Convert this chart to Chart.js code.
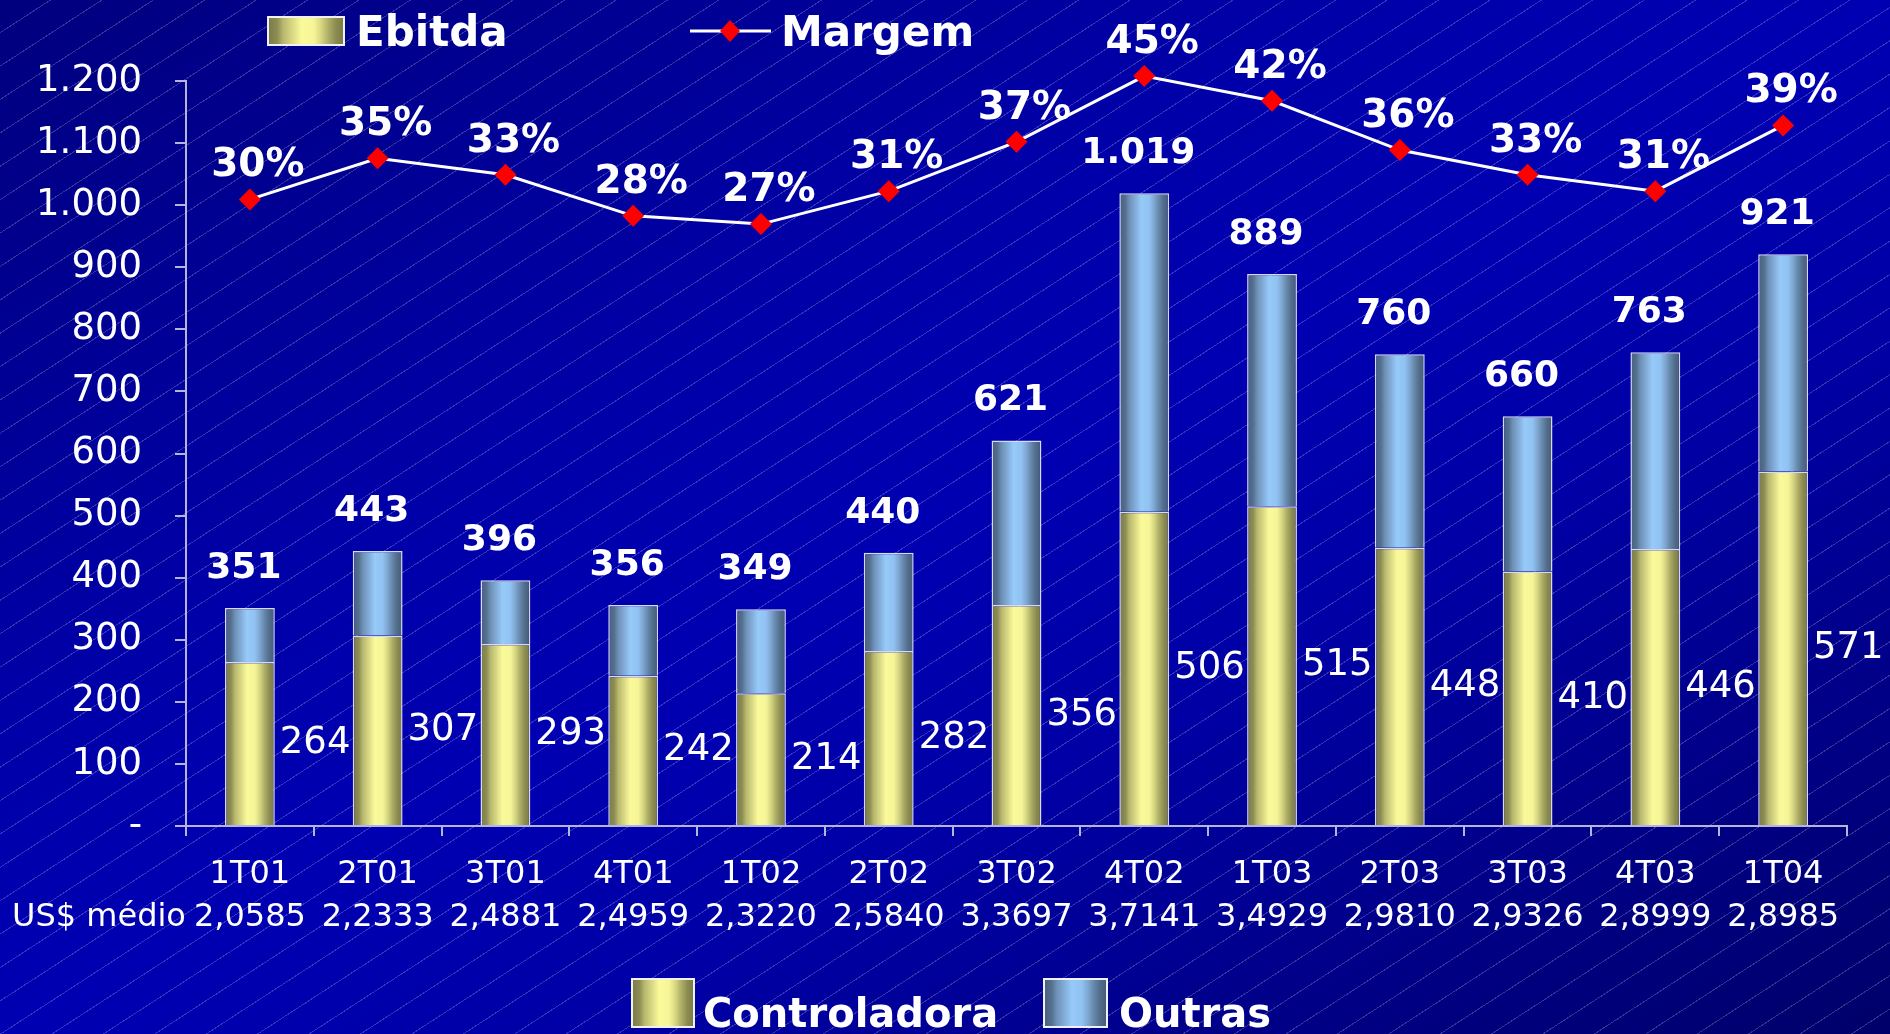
<!DOCTYPE html>
<html>
<head>
<meta charset="utf-8">
<script src="https://cdn.jsdelivr.net/npm/chart.js@4.4.1/dist/chart.umd.min.js"></script>
<style>
  html, body { margin: 0; padding: 0; overflow: hidden; }
  body {
    width: 1890px;
    height: 1034px;
    background:
      repeating-linear-gradient(147deg, rgba(255,255,255,0) 0px, rgba(255,255,255,0) 27px, rgba(255,255,255,0.2) 27px, rgba(255,255,255,0.2) 28px),
      linear-gradient(to bottom right, #00007e 0%, #0000a8 35%, #0000b2 50%, #0000a6 65%, #00006a 100%);
  }
  canvas { display: block; }
</style>
</head>
<body>
<canvas id="grafico" width="1890" height="1034"></canvas>
<script>
const trimestres = ['1T01', '2T01', '3T01', '4T01', '1T02', '2T02', '3T02', '4T02', '1T03', '2T03', '3T03', '4T03', '1T04']
const dolarMedio = ['2,0585', '2,2333', '2,4881', '2,4959', '2,3220', '2,5840', '3,3697', '3,7141', '3,4929', '2,9810', '2,9326', '2,8999', '2,8985']
const controladora = [264, 307, 293, 242, 214, 282, 356, 506, 515, 448, 410, 446, 571]
const outras = [87, 136, 103, 114, 135, 158, 265, 513, 374, 312, 250, 317, 350]
const ebitda = [351, 443, 396, 356, 349, 440, 621, 1019, 889, 760, 660, 763, 921]
const margem = [30, 35, 33, 28, 27, 31, 37, 45, 42, 36, 33, 31, 39]

// listras verticais das barras (cilindro)
const amarelo = [[0, '#7a7a44'], [0.12, '#8c8c54'], [0.2, '#b8b86e'], [0.32, '#d8d884'], [0.44, '#fafa9a'], [0.6, '#f6f698'], [0.7, '#d6d682'], [0.8, '#acac66'], [0.9, '#8a8a50'], [1, '#787842']]
const azul = [[0, '#46607e'], [0.12, '#54708e'], [0.2, '#6e90b6'], [0.32, '#82acd8'], [0.44, '#96caf8'], [0.6, '#90c2f2'], [0.7, '#7ea6d0'], [0.8, '#6486a8'], [0.9, '#506a88'], [1, '#445c78']]
const larguraBarra = 0.39

function milhar(v) {
  return String(v).replace(/\B(?=(\d{3})+(?!\d))/g, '.')
}

function grad(ctx, x0, x1, stops) {
  const g = ctx.createLinearGradient(x0, 0, x1, 0)
  stops.forEach(s => g.addColorStop(s[0], s[1]))
  return g
}

function preenchimento(stops, base) {
  return function (c) {
    const ch = c.chart
    const xs = ch.scales.x
    if (c.type !== 'data' || !xs || !xs.width) return base
    const meio = xs.getPixelForValue(c.dataIndex)
    const larg = (xs.width / trimestres.length) * larguraBarra
    return grad(ch.ctx, meio - larg / 2, meio + larg / 2, stops)
  }
}

function caixa(ctx, x, y, w, h, stops) {
  ctx.fillStyle = grad(ctx, x, x + w, stops)
  ctx.fillRect(x, y, w, h)
  ctx.strokeStyle = '#f0f0f8'
  ctx.lineWidth = 2
  ctx.strokeRect(x, y, w, h)
}

const extras = {
  id: 'extras',
  afterDatasetsDraw(chart) {
    const ctx = chart.ctx
    const mc = chart.getDatasetMeta(0)
    const mo = chart.getDatasetMeta(1)
    const ml = chart.getDatasetMeta(2)
    ctx.save()
    ctx.fillStyle = '#ffffff'

    ctx.font = '37px "DejaVu Sans"'
    ctx.textAlign = 'left'
    ctx.textBaseline = 'middle'
    mc.data.forEach((b, i) => {
      ctx.fillText(String(controladora[i]), b.x + b.width / 2 + 5, (b.y + b.base) / 2)
    })

    ctx.font = 'bold 36px "DejaVu Sans"'
    ctx.textAlign = 'center'
    ctx.textBaseline = 'alphabetic'
    mo.data.forEach((b, i) => {
      ctx.fillText(milhar(ebitda[i]), b.x - 6, b.y - 30)
    })

    ctx.font = 'bold 39px "DejaVu Sans"'
    ml.data.forEach((p, i) => {
      ctx.fillText(margem[i] + '%', p.x + 8, p.y - 23)
    })

    ctx.font = '32px "DejaVu Sans"'
    ctx.textAlign = 'left'
    ctx.textBaseline = 'middle'
    ctx.fillText('US$ médio', 12, 918)
    ctx.restore()
  },
  afterDraw(chart) {
    const ctx = chart.ctx
    ctx.save()
    ctx.textAlign = 'left'
    ctx.textBaseline = 'alphabetic'

    // legenda de cima
    caixa(ctx, 268, 17, 76, 28, amarelo)
    ctx.fillStyle = '#ffffff'
    ctx.font = 'bold 42px "DejaVu Sans"'
    ctx.fillText('Ebitda', 356, 46)

    ctx.strokeStyle = '#ffffff'
    ctx.lineWidth = 3
    ctx.beginPath()
    ctx.moveTo(690, 31)
    ctx.lineTo(771, 31)
    ctx.stroke()
    ctx.fillStyle = '#ff0000'
    ctx.beginPath()
    ctx.moveTo(730, 20)
    ctx.lineTo(740, 31)
    ctx.lineTo(730, 42)
    ctx.lineTo(720, 31)
    ctx.closePath()
    ctx.fill()
    ctx.fillStyle = '#ffffff'
    ctx.fillText(chart.data.datasets[2].label, 781, 46)

    // legenda de baixo
    caixa(ctx, 632, 979, 62, 48, amarelo)
    caixa(ctx, 1044, 979, 63, 48, azul)
    ctx.fillStyle = '#ffffff'
    ctx.font = 'bold 40px "DejaVu Sans"'
    ctx.fillText(chart.data.datasets[0].label, 703, 1027)
    ctx.fillText(chart.data.datasets[1].label, 1119, 1027)
    ctx.restore()
  }
}

const corEixo = '#b4b4dc'

new Chart(document.getElementById('grafico'), {
  data: {
    labels: trimestres.map((t, i) => [t, dolarMedio[i]]),
    datasets: [
      {
        type: 'bar',
        label: 'Controladora',
        data: controladora,
        backgroundColor: preenchimento(amarelo, '#e0e088'),
        borderColor: 'rgba(240,240,250,0.9)',
        borderWidth: 1.5,
        barPercentage: larguraBarra,
        categoryPercentage: 1,
        order: 1
      },
      {
        type: 'bar',
        label: 'Outras',
        data: outras,
        backgroundColor: preenchimento(azul, '#80aad6'),
        borderColor: 'rgba(240,240,250,0.9)',
        borderWidth: 1.5,
        barPercentage: larguraBarra,
        categoryPercentage: 1,
        order: 1
      },
      {
        type: 'line',
        label: 'Margem',
        data: margem,
        yAxisID: 'y2',
        borderColor: '#ffffff',
        borderWidth: 3,
        pointStyle: 'rectRot',
        pointRadius: 11,
        pointBackgroundColor: '#ff0000',
        pointBorderColor: '#ff0000',
        pointBorderWidth: 0,
        tension: 0,
        clip: false,
        order: 0
      }
    ]
  },
  options: {
    responsive: false,
    animation: false,
    layout: { padding: { left: 0, right: 43, top: 81, bottom: 0 } },
    plugins: {
      legend: { display: false },
      tooltip: { enabled: false }
    },
    scales: {
      x: {
        stacked: true,
        afterFit: s => { s.height = 208 },
        border: { color: corEixo, width: 2 },
        grid: { offset: true, drawOnChartArea: false, color: corEixo, lineWidth: 2, tickLength: 10 },
        ticks: {
          color: '#ffffff',
          padding: 17,
          maxRotation: 0,
          autoSkip: false,
          font: { family: 'DejaVu Sans', size: 32, lineHeight: 1.34 }
        }
      },
      y: {
        stacked: true,
        min: 0,
        max: 1200,
        afterFit: s => { s.width = 186 },
        border: { color: corEixo, width: 2 },
        grid: { drawOnChartArea: false, color: corEixo, lineWidth: 2, tickLength: 11 },
        ticks: {
          stepSize: 100,
          color: '#ffffff',
          padding: 33,
          font: { family: 'DejaVu Sans', size: 37 },
          callback: v => (v === 0 ? '-' : milhar(v))
        }
      },
      y2: {
        display: false,
        min: -46.2,
        max: 44.4
      }
    }
  },
  plugins: [extras]
})
</script>
</body>
</html>
